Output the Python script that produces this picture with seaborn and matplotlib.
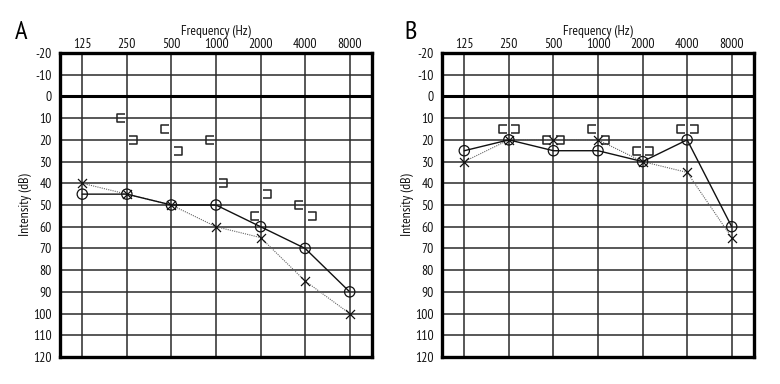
import numpy as np
import pandas as pd
import matplotlib
matplotlib.use("Agg")
import matplotlib.pyplot as plt
import matplotlib.transforms as mtransforms
from matplotlib.path import Path
import seaborn as sns

sns.set_style("white")
plt.rcParams['font.family'] = ['PT Sans Narrow', 'DejaVu Sans']

freqs = [125, 250, 500, 1000, 2000, 4000, 8000]
freq_labels = ["125", "250", "500", "1000", "2000", "4000", "8000"]
y_ticks = [-20, -10, 0, 10, 20, 30, 40, 50, 60, 70, 80, 90, 100, 110, 120]

# Panel A
a_right_air = [45, 45, 50, 50, 60, 70, 90]      # circles
a_left_air = [40, 45, 50, 60, 65, 85, 100]      # crosses
a_right_bone_f = [250, 500, 1000, 2000, 4000]   # "[" masked bone, right
a_right_bone = [10, 15, 20, 55, 50]
a_left_bone_f = [250, 500, 1000, 2000, 4000]    # "]" masked bone, left
a_left_bone = [20, 25, 40, 45, 55]

# Panel B
b_right_air = [25, 20, 25, 25, 30, 20, 60]
b_left_air = [30, 20, 20, 20, 30, 35, 65]
b_right_bone_f = [250, 500, 1000, 2000, 4000]
b_right_bone = [15, 20, 15, 25, 15]
b_left_bone_f = [250, 500, 1000, 2000, 4000]
b_left_bone = [15, 20, 20, 25, 15]

# bracket markers
open_right = Path([(0.45, 0.5), (-0.45, 0.5), (-0.45, -0.5), (0.45, -0.5)],
                  [Path.MOVETO, Path.LINETO, Path.LINETO, Path.LINETO])
open_left = Path([(-0.45, 0.5), (0.45, 0.5), (0.45, -0.5), (-0.45, -0.5)],
                 [Path.MOVETO, Path.LINETO, Path.LINETO, Path.LINETO])

fig = plt.figure(figsize=(7.8, 3.84), dpi=100)
axA = fig.add_axes([60 / 780, 27 / 384, 312 / 780, 304 / 384])
axB = fig.add_axes([442 / 780, 27 / 384, 312 / 780, 304 / 384])


def draw(ax, r_air, l_air, rb_f, rb, lb_f, lb, letter, lx):
    ax.set_xscale('log', base=2)
    ax.set_xlim(125 / np.sqrt(2), 8000 * np.sqrt(2))
    ax.set_ylim(120, -20)
    ax.set_xticks(freqs)
    ax.set_xticklabels(freq_labels)
    ax.minorticks_off()
    ax.set_yticks(y_ticks)
    ax.set_yticklabels([str(v) for v in y_ticks])
    ax.xaxis.tick_top()
    ax.xaxis.set_label_position('top')
    ax.tick_params(axis='both', length=0, labelsize=9.8, colors='#111')
    ax.tick_params(axis='x', pad=1.5)
    ax.tick_params(axis='y', pad=6)
    for f in freqs:
        ax.axvline(f, color='#2a2a2a', lw=1.1, zorder=1)
    for v in y_ticks:
        ax.axhline(v, color='#2a2a2a', lw=1.1, zorder=1)
    ax.axhline(0, color='black', lw=2.2, zorder=2)
    for s in ax.spines.values():
        s.set_visible(True)
        s.set_color('black')
        s.set_linewidth(2.4)
        s.set_zorder(5)

    df_r = pd.DataFrame({"f": freqs, "db": r_air})
    df_l = pd.DataFrame({"f": freqs, "db": l_air})
    sns.lineplot(data=df_l, x="f", y="db", ax=ax, color='#666', lw=0.8,
                 linestyle=(0, (1, 1)), zorder=3)
    sns.lineplot(data=df_r, x="f", y="db", ax=ax, color='#111', lw=1.0, zorder=3)
    sns.scatterplot(data=df_r, x="f", y="db", ax=ax, marker='o', s=55,
                    facecolor='none', edgecolor='#111', linewidth=0.9, zorder=4)
    sns.scatterplot(data=df_l, x="f", y="db", ax=ax, marker='x', s=42,
                    color='#111', linewidth=0.9, zorder=4)

    off_l = mtransforms.offset_copy(ax.transData, fig=fig, x=-6, y=0, units='dots')
    off_r = mtransforms.offset_copy(ax.transData, fig=fig, x=6.5, y=0, units='dots')
    ax.plot(rb_f, rb, linestyle='none', marker=open_right, markersize=6,
            markerfacecolor='none', markeredgecolor='#222', markeredgewidth=1.1,
            transform=off_l, zorder=4)
    ax.plot(lb_f, lb, linestyle='none', marker=open_left, markersize=6,
            markerfacecolor='none', markeredgecolor='#222', markeredgewidth=1.1,
            transform=off_r, zorder=4)
    ax.set_xlabel("Frequency (Hz)", fontsize=9.8, labelpad=2, color='#111')
    ax.set_ylabel("Intensity (dB)", fontsize=9.8, labelpad=0.5, color='#111')
    fig.text(lx, 0.915, letter, fontsize=19, ha='center', va='center', color='black')


draw(axA, a_right_air, a_left_air, a_right_bone_f, a_right_bone,
     a_left_bone_f, a_left_bone, "A", 21 / 780)
draw(axB, b_right_air, b_left_air, b_right_bone_f, b_right_bone,
     b_left_bone_f, b_left_bone, "B", 411 / 780)

fig.savefig("out.png", dpi=100)
